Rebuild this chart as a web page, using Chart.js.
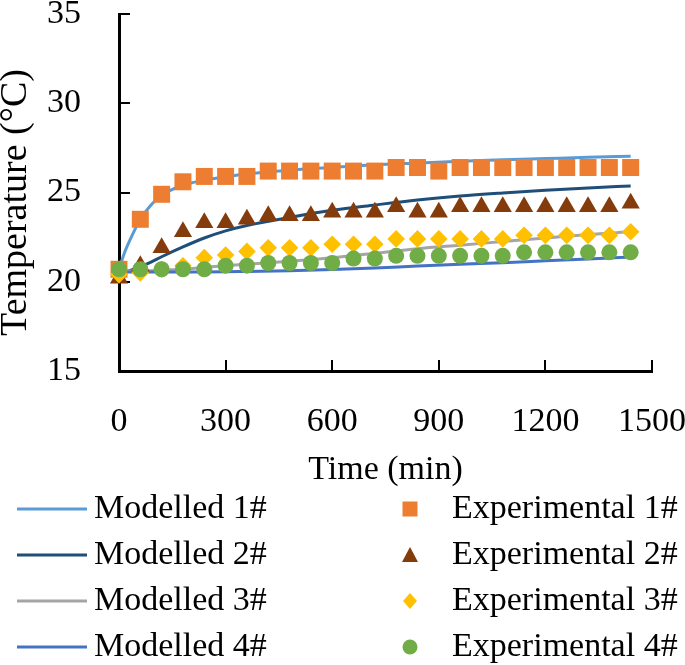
<!DOCTYPE html>
<html>
<head>
<meta charset="utf-8">
<script src="https://cdn.jsdelivr.net/npm/chart.js@4.4.1/dist/chart.umd.min.js"></script>
<style>
  html, body { margin: 0; padding: 0; background: #fff; }
  #wrap { width: 685px; height: 665px; }
</style>
</head>
<body>
<div id="wrap"><canvas id="temp-chart"></canvas></div>
<script>
// experimental readings, every 60 min
const expTimes = [0, 60, 120, 180, 240, 300, 360, 420, 480, 540, 600, 660, 720,
  780, 840, 900, 960, 1020, 1080, 1140, 1200, 1260, 1320, 1380, 1440]
const exp1 = [20.7, 23.5, 24.9, 25.6, 25.9, 25.9, 25.9, 26.2, 26.2, 26.2, 26.2, 26.2, 26.2,
  26.4, 26.4, 26.2, 26.4, 26.4, 26.4, 26.4, 26.4, 26.4, 26.4, 26.4, 26.4]
const exp2 = [20.2, 20.9, 21.9, 22.8, 23.3, 23.3, 23.5, 23.7, 23.7, 23.7, 23.9, 23.9, 23.9,
  24.2, 23.9, 23.9, 24.2, 24.2, 24.2, 24.2, 24.2, 24.2, 24.2, 24.2, 24.4]
const exp3 = [20.4, 20.5, 20.7, 20.9, 21.35, 21.5, 21.7, 21.9, 21.9, 21.9, 22.1, 22.1, 22.1,
  22.4, 22.4, 22.4, 22.4, 22.4, 22.4, 22.6, 22.6, 22.6, 22.6, 22.6, 22.8]
const exp4 = [20.7, 20.7, 20.7, 20.7, 20.7, 20.9, 20.9, 21.05, 21.05, 21.05, 21.05, 21.3, 21.3,
  21.45, 21.45, 21.45, 21.45, 21.45, 21.45, 21.65, 21.65, 21.65, 21.65, 21.65, 21.65]

// model curves
const modelTimes = [0, 15, 30, 60, 90, 120, 180, 240, 300, 360, 480, 600, 720, 840, 960, 1080, 1200, 1320, 1440]
const model1 = [20.7, 21.6, 22.3, 23.5, 24.3, 24.85, 25.4, 25.7, 25.88, 26.05, 26.25, 26.4, 26.55, 26.65, 26.75, 26.83, 26.9, 26.97, 27.03]
const model2 = [20.5, 20.55, 20.62, 20.85, 21.1, 21.4, 21.95, 22.45, 22.85, 23.15, 23.6, 24.0, 24.3, 24.58, 24.8, 24.97, 25.12, 25.25, 25.37]
const model3 = [20.6, 20.6, 20.6, 20.6, 20.62, 20.65, 20.7, 20.8, 20.9, 20.98, 21.15, 21.35, 21.6, 21.85, 22.05, 22.25, 22.45, 22.65, 22.8]
const model4 = [20.55, 20.55, 20.55, 20.55, 20.55, 20.55, 20.55, 20.55, 20.56, 20.58, 20.62, 20.68, 20.77, 20.88, 20.98, 21.06, 21.17, 21.28, 21.39]

const modelNames = ['Modelled 1#', 'Modelled 2#', 'Modelled 3#', 'Modelled 4#']
const expNames = ['Experimental 1#', 'Experimental 2#', 'Experimental 3#', 'Experimental 4#']
const yTitle = 'Temperature (°C)'
const xTitle = 'Time (min)'

const xTicks = [0, 300, 600, 900, 1200, 1500]
const xTickLabels = ['0', '300', '600', '900', '1200', '1500']
const yTicks = [15, 20, 25, 30, 35]
const yTickLabels = ['15', '20', '25', '30', '35']

const lineColors = ['#5B9BD5', '#1F4E79', '#A5A5A5', '#4472C4']
const markColors = ['#ED7D31', '#843C0C', '#FFC000', '#70AD47']
const markStyles = ['rect', 'triangle', 'rectRot', 'circle']
const markSizes = [12, 10.5, 8.8, 8]

const FONT = '"Liberation Serif", "Times New Roman", serif'

const pair = (xs, ys) => xs.map((x, i) => ({ x: x, y: ys[i] }))

const models = [model1, model2, model3, model4]
const exps = [exp1, exp2, exp3, exp4]

const datasets = []
models.forEach((m, i) => {
    datasets.push({
        label: modelNames[i],
        data: pair(modelTimes, m),
        showLine: true,
        borderColor: lineColors[i],
        borderWidth: 3,
        pointRadius: 0,
        cubicInterpolationMode: 'monotone',
        order: 20 - i,
        clip: false
    })
})
exps.forEach((e, i) => {
    datasets.push({
        label: expNames[i],
        data: pair(expTimes, e),
        showLine: false,
        pointStyle: markStyles[i],
        pointRadius: markSizes[i],
        pointHoverRadius: markSizes[i],
        backgroundColor: markColors[i],
        borderColor: markColors[i],
        pointBorderWidth: 0,
        order: 10 - i,
        clip: false
    })
})

// y title + two column legend under the axis title
const extras = {
    id: 'extras',
    afterDraw(chart) {
        const ctx = chart.ctx
        const area = chart.chartArea
        ctx.save()
        ctx.fillStyle = '#000'
        ctx.font = '38px ' + FONT
        ctx.textAlign = 'center'
        ctx.textBaseline = 'middle'
        ctx.translate(16, (area.top + area.bottom) / 2 + 10)
        ctx.rotate(-Math.PI / 2)
        ctx.fillText(yTitle, 0, 0)
        ctx.restore()

        ctx.save()
        ctx.font = '34px ' + FONT
        ctx.textBaseline = 'middle'
        for (let i = 0; i < 4; i++) {
            const y = 509 + i * 46
            ctx.strokeStyle = lineColors[i]
            ctx.lineWidth = 3
            ctx.beginPath()
            ctx.moveTo(17, y)
            ctx.lineTo(87, y)
            ctx.stroke()
            ctx.fillStyle = '#000'
            ctx.fillText(modelNames[i], 94, y)

            const cx = 410
            ctx.fillStyle = markColors[i]
            ctx.beginPath()
            if (markStyles[i] === 'rect') {
                ctx.rect(cx - 7.5, y - 7.5, 15, 15)
            } else if (markStyles[i] === 'triangle') {
                ctx.moveTo(cx, y - 8)
                ctx.lineTo(cx + 8, y + 7)
                ctx.lineTo(cx - 8, y + 7)
                ctx.closePath()
            } else if (markStyles[i] === 'rectRot') {
                ctx.moveTo(cx, y - 8)
                ctx.lineTo(cx + 7, y)
                ctx.lineTo(cx, y + 8)
                ctx.lineTo(cx - 7, y)
                ctx.closePath()
            } else {
                ctx.arc(cx, y, 7.5, 0, Math.PI * 2)
            }
            ctx.fill()
            ctx.fillStyle = '#000'
            ctx.fillText(expNames[i], 452, y)
        }
        ctx.restore()
    }
}

const myChart = document.getElementById('temp-chart')

new Chart(myChart, {
    type: 'scatter',
    data: { datasets: datasets },
    plugins: [extras],
    options: {
        responsive: true,
        maintainAspectRatio: false,
        animation: false,
        layout: { padding: { left: 0, right: 33, top: 14, bottom: 174.6 } },
        plugins: {
            legend: { display: false },
            tooltip: { enabled: false }
        },
        scales: {
            x: {
                type: 'linear',
                min: 0,
                max: 1500,
                afterBuildTicks: (s) => { s.ticks = xTicks.map(v => ({ value: v })) },
                afterFit: (s) => {
                    s.height = 119.4
                    s.paddingLeft = 0
                    s.paddingRight = 0
                },
                ticks: {
                    color: '#000',
                    padding: 42,
                    maxRotation: 0,
                    font: { family: FONT, size: 34 },
                    callback: (v, i) => xTickLabels[i]
                },
                grid: { drawOnChartArea: false, drawTicks: true, tickLength: -11, color: '#000', lineWidth: 2 },
                border: { color: '#000', width: 3 },
                title: {
                    display: true,
                    text: xTitle,
                    color: '#000',
                    padding: { top: 0, bottom: 0 },
                    font: { family: FONT, size: 34, weight: 'normal' }
                }
            },
            y: {
                type: 'linear',
                min: 15,
                max: 35,
                afterBuildTicks: (s) => { s.ticks = yTicks.map(v => ({ value: v })) },
                afterFit: (s) => {
                    s.width = 119
                    s.paddingTop = 0
                    s.paddingBottom = 0
                },
                ticks: {
                    color: '#000',
                    padding: 49,
                    font: { family: FONT, size: 34 },
                    callback: (v, i) => yTickLabels[i]
                },
                grid: { drawOnChartArea: false, drawTicks: true, tickLength: -11, color: '#000', lineWidth: 2 },
                border: { color: '#000', width: 3 },
                title: { display: false }
            }
        }
    }
})
</script>
</body>
</html>
